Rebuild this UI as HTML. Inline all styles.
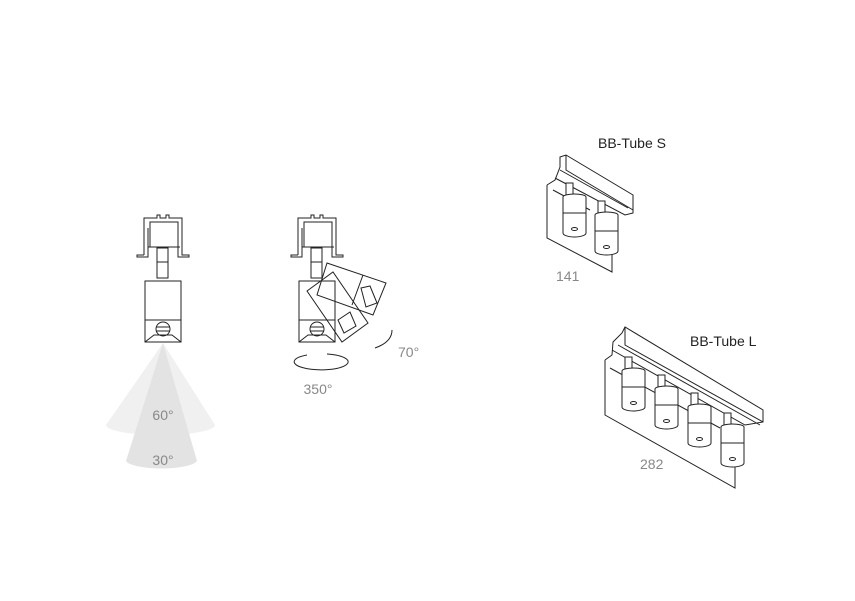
<!DOCTYPE html>
<html><head><style>
body{margin:0;background:#fff}
svg{display:block}
text{font-family:"Liberation Sans",sans-serif}
</style></head><body>
<svg width="855" height="601" viewBox="0 0 855 601" xmlns="http://www.w3.org/2000/svg">
<rect width="855" height="601" fill="#fff"/>
<defs>
<g id="fix" fill="none" stroke="#222" stroke-width="1">
  <path d="M144 255 V218 H157 V215 H160 V218 H166 V215 H169 V218 H182 V255 H189 V257 H178 V228 M144 255 H137 V257 H148 V228"/>
  <rect x="150" y="222" width="28" height="25"/>
  <line x1="148" y1="247" x2="180" y2="247"/>
  <rect x="157" y="248" width="11" height="30" fill="#fff"/>
  <line x1="157" y1="262" x2="168" y2="262"/>
  <path d="M145 281 H181 V342 H145 Z"/>
  <line x1="145" y1="320" x2="181" y2="320"/>
  <circle cx="163" cy="329" r="7" fill="#fff"/>
  <line x1="156" y1="327" x2="170" y2="327"/><line x1="156" y1="331" x2="170" y2="331"/>
  <path d="M145 342 L154 335 H172 L181 342"/>
</g>
<g id="cyl" fill="#fff" stroke="#222" stroke-width="1">
  <rect x="3" y="0" width="7" height="14"/>
  <path d="M0 14 A11.5 3 0 0 1 23 14 V50 A11.5 4 0 0 1 0 50 Z"/>
  <line x1="0" y1="30" x2="23" y2="30"/>
  <ellipse cx="11.5" cy="46" rx="3" ry="1.5"/>
</g>
</defs>
<path d="M163 343 L106 425 A54 10 0 0 0 215 425 Z" fill="#f0f0f0"/>
<path d="M163 343 L126 461 A36 9 0 0 0 197 461 Z" fill="#e3e3e3"/>
<use href="#fix"/>
<text x="163" y="420" font-size="14" fill="#888" text-anchor="middle">60°</text>
<text x="163" y="465" font-size="14" fill="#888" text-anchor="middle">30°</text>
<use href="#fix" transform="translate(154,0)"/>
<g fill="none" stroke="#222" stroke-width="1">
  <polygon points="307,291 333,272 368,323 342,342"/>
  <polygon points="327,263 386,283 373,315 317,295"/>
  <line x1="363" y1="275" x2="352" y2="305"/>
  <path d="M361 288 L370 286 L377 303 L366 307 Z"/>
  <path d="M338 320 L350 312 L356 326 L344 333 Z"/>
  <path d="M307 355 A27 8 0 1 0 327 354"/>
  <path d="M375 348 Q392 342 392 330"/>
</g>
<text x="318" y="394" font-size="14" fill="#888" text-anchor="middle">350°</text>
<text x="398" y="357" font-size="14" fill="#888">70°</text>
<text x="598" y="148" font-size="14" fill="#222">BB-Tube S</text>
<g fill="none" stroke="#222" stroke-width="1">
  <path d="M547 185 V238 L612 272 V240"/>
  <path d="M547 185 L555 180 L560 167 V157 L566 155 L633 195 V213 L625 215 L555 178"/>
  <path d="M566 155 V170 L633 210"/><path d="M560 170 L628 208"/>
  <path d="M553 190 L590 210"/>
</g>
<use href="#cyl" transform="translate(563,183)"/>
<use href="#cyl" transform="translate(595,201)"/>
<text x="556" y="281" font-size="14" fill="#888">141</text>
<text x="690" y="346" font-size="14" fill="#222">BB-Tube L</text>
<g fill="none" stroke="#222" stroke-width="1">
  <path d="M605 360 V415 L735 488 V455"/>
  <path d="M605 360 L612 355 L613 342 L622 333 L625 327 L763 410 V422 L745 425 L612 350"/>
  <path d="M625 327 V345 L763 422"/><path d="M618 345 L760 425"/>
  <path d="M610 368 L720 428"/>
</g>
<use href="#cyl" transform="translate(622,357)"/>
<use href="#cyl" transform="translate(655,375)"/>
<use href="#cyl" transform="translate(688,393)"/>
<use href="#cyl" transform="translate(721,413)"/>
<text x="640" y="469" font-size="14" fill="#888">282</text>
</svg>
</body></html>
